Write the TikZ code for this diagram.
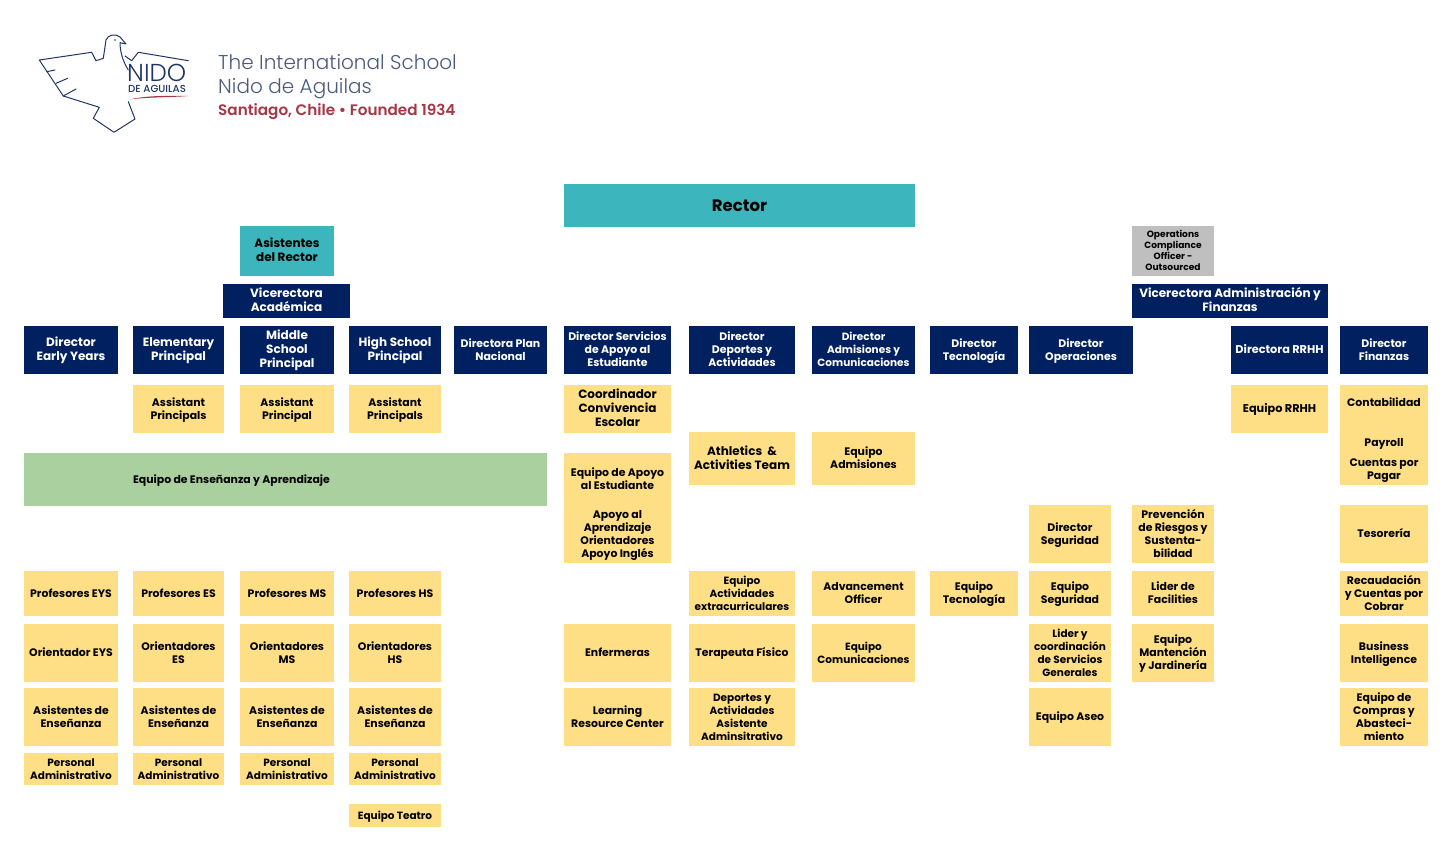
\documentclass[tikz,border=0pt]{standalone}
\usepackage{fontspec}
\setmainfont{Poppins}[UprightFont=*-Bold,BoldFont=*-Bold]
\newfontfamily\logolight{Poppins}[UprightFont=*-Light]
\newfontfamily\logomed{Poppins}[UprightFont=*-Medium]
\newfontfamily\logosemi{Poppins}[UprightFont=*-SemiBold]
\definecolor{navy}{HTML}{002060}
\definecolor{teal}{HTML}{3DB5BC}
\definecolor{ylw}{HTML}{FFDF85}
\definecolor{grn}{HTML}{A9D09E}
\definecolor{gry}{HTML}{BFBFBF}
\definecolor{lgblue}{HTML}{1F3566}
\definecolor{lgtext}{HTML}{4A5A7C}
\definecolor{lgred}{HTML}{A83444}
\tikzset{
 x=1pt,y=-1pt,
 base/.style={inner sep=0pt,outer sep=0pt,align=center,font=\fontsize{10.9}{13}\selectfont},
 nv/.style={base,fill=navy,text=white},
 yl/.style={base,fill=ylw,text=black},
 tl/.style={base,fill=teal,text=black},
 gr/.style={base,fill=gry,text=black,font=\fontsize{9.1}{11}\selectfont},
 big/.style={font=\fontsize{12}{14}\selectfont},
 sm/.style={font=\fontsize{10.5}{13}\selectfont},
 wd/.style={font=\fontsize{11.3}{13}\selectfont},
 gn/.style={base,fill=grn},
 lgline/.style={draw=lgblue,line width=1pt,line join=round,line cap=round},
 lgt/.style={inner sep=0pt,anchor=base west,text=lgtext},
}
\newcommand{\topstrut}{\rule{0pt}{\dimexpr0.7\baselineskip+2pt\relax}}
\newcommand{\bx}[7]{\node[#6,minimum width=#4pt-#2pt,minimum height=#5pt-#3pt] (#1) at ({(#2+#4)/2},{(#3+#5)/2}) {\topstrut #7\strut};}
\begin{document}
\begin{tikzpicture}
\useasboundingbox (0,0) rectangle (1453,848);
% logo
\draw[lgline] (91.7,52.3) -- (39.3,60) -- (63.3,96) -- (99.3,107.3) -- (93.3,118.3) -- (114,132.3) -- (135,119) -- (128.3,101.7);
\draw[lgline] (46.7,71.7) -- (55,70); \draw[lgline] (56,83.3) -- (67.7,78.3); \draw[lgline] (63.3,96) -- (76,89);
\draw[lgline] (91.7,52.3) -- (96,60.7) -- (103.3,58.3) -- (106,40) .. controls (108,35) and (115,33) .. (120,37) -- (126,44) -- (120,42.7) .. controls (120,50) and (122,60) .. (128.3,70);
\draw[lgline] (188.3,60.7) -- (138.3,52.3) -- (131.7,60.7) -- (125,56);
\fill[lgblue] (115,40) circle (0.9);
\fill[lgred] (130,99.3) .. controls (150,95) and (170,96) .. (188.3,96) .. controls (170,97.5) and (150,97) .. (130,99.3) -- cycle;
\node[lgt,text=lgblue,font=\logolight\fontsize{24.5}{25}\selectfont] (lgnido) at (127,81.7) {NIDO};
\node[lgt,text=lgblue,font=\logomed\fontsize{10.2}{10.5}\selectfont] (lgde) at (128,92.6) {DE AGUILAS};
\node[lgt,font=\logolight\fontsize{20}{22}\selectfont] (lg1) at (218,70) {The International School};
\node[lgt,font=\logolight\fontsize{20}{22}\selectfont] (lg2) at (218,94) {Nido de Aguilas};
\node[lgt,text=lgred,font=\logosemi\fontsize{15.2}{17}\selectfont] (lg3) at (218,115.5) {Santiago, Chile • Founded 1934};
% top
\bx{rector}{564}{184}{915}{227}{tl,font=\fontsize{16.5}{18}\selectfont}{\rule{0pt}{16.6pt}Rector}
\bx{asis}{240}{226}{334}{276}{tl,big}{Asistentes\\del Rector}
\bx{vacad}{223}{284}{350}{318}{nv,big}{Vicerectora\\Académica}
\bx{oco}{1132}{226}{1214}{276}{gr}{Operations\\Compliance\\Officer -\\Outsourced}
\bx{vaf}{1132}{284}{1328}{318}{nv,big}{Vicerectora Administración y\\Finanzas}
% directors
\bx{d1}{24}{326}{118}{374}{nv,big}{Director\\Early Years}
\bx{d2}{133}{326}{224}{374}{nv,big}{Elementary\\Principal}
\bx{d3}{240}{326}{334}{374}{nv,big}{Middle\\School\\Principal}
\bx{d4}{349}{326}{441}{374}{nv,big}{High School\\Principal}
\bx{d5}{454}{326}{547}{374}{nv}{Directora Plan\\Nacional}
\bx{d6}{564}{326}{671}{374}{nv}{Director Servicios\\de Apoyo al\\Estudiante}
\bx{d7}{689}{326}{795}{374}{nv}{Director\\Deportes y\\Actividades}
\bx{d8}{812}{326}{915}{374}{nv,sm}{Director\\Admisiones y\\Comunicaciones}
\bx{d9}{930}{326}{1018}{374}{nv}{Director\\Tecnología}
\bx{d10}{1029}{326}{1133}{374}{nv}{Director\\Operaciones}
\bx{d11}{1231}{326}{1328}{374}{nv,wd}{Directora RRHH}
\bx{d12}{1340}{326}{1428}{374}{nv}{Director\\Finanzas}
% row 385
\bx{a2}{133}{385}{224}{433}{yl}{Assistant\\Principals}
\bx{a3}{240}{385}{334}{433}{yl}{Assistant\\Principal}
\bx{a4}{349}{385}{441}{433}{yl}{Assistant\\Principals}
\bx{a6}{564}{385}{671}{433}{yl,big}{Coordinador\\Convivencia\\Escolar}
\bx{a11}{1231}{385}{1328}{433}{yl,wd}{Equipo RRHH}
\bx{a12}{1340}{385}{1428}{485}{yl}{}
\node[base,anchor=center,text=black] (a12t) at (1384,440.5) {\strut Contabilidad\\[27pt]Payroll\\[7pt]Cuentas por\\Pagar\strut};
% green
\bx{green}{24}{453}{547}{506}{gn}{}
\node[base,anchor=west,text=black] (greent) at (133,480.5) {\strut Equipo de Enseñanza y Aprendizaje\strut};
% middle
\bx{e6}{564}{453}{671}{563}{yl}{}
\node[base,text=black] (e6t) at (617.5,514) {\strut Equipo de Apoyo\\al Estudiante\\[16pt]Apoyo al\\Aprendizaje\\Orientadores\\Apoyo Inglés\strut};
\bx{e7}{689}{432}{795}{485}{yl,big}{Athletics\ \ \&\\Activities Team}
\bx{e8}{812}{432}{915}{485}{yl}{Equipo\\Admisiones}
\bx{s10}{1029}{505}{1111}{563}{yl}{Director\\Seguridad}
\bx{s11}{1132}{505}{1214}{563}{yl}{Prevención\\de Riesgos y\\Sustenta-\\bilidad}
\bx{s12}{1340}{505}{1428}{563}{yl}{Tesorería}
% row 571
\bx{r1}{24}{571}{118}{616}{yl}{Profesores EYS}
\bx{r2}{133}{571}{224}{616}{yl}{Profesores ES}
\bx{r3}{240}{571}{334}{616}{yl}{Profesores MS}
\bx{r4}{349}{571}{441}{616}{yl}{Profesores HS}
\bx{r7}{689}{571}{795}{616}{yl,sm}{Equipo\\Actividades\\extracurriculares}
\bx{r8}{812}{571}{915}{616}{yl}{Advancement\\Officer}
\bx{r9}{930}{571}{1018}{616}{yl}{Equipo\\Tecnología}
\bx{r10}{1029}{571}{1111}{616}{yl}{Equipo\\Seguridad}
\bx{r11}{1132}{571}{1214}{616}{yl}{Lider de\\Facilities}
\bx{r12}{1340}{571}{1428}{616}{yl}{Recaudación\\y Cuentas por\\Cobrar}
% row 624
\bx{o1}{24}{624}{118}{682}{yl}{Orientador EYS}
\bx{o2}{133}{624}{224}{682}{yl}{Orientadores\\ES}
\bx{o3}{240}{624}{334}{682}{yl}{Orientadores\\MS}
\bx{o4}{349}{624}{441}{682}{yl}{Orientadores\\HS}
\bx{o6}{564}{624}{671}{682}{yl}{Enfermeras}
\bx{o7}{689}{624}{795}{682}{yl}{Terapeuta Físico}
\bx{o8}{812}{624}{915}{682}{yl,sm}{Equipo\\Comunicaciones}
\bx{o10}{1029}{624}{1111}{682}{yl,sm}{Lider y\\coordinación\\de Servicios\\Generales}
\bx{o11}{1132}{624}{1214}{682}{yl}{Equipo\\Mantención\\y Jardinería}
\bx{o12}{1340}{624}{1428}{682}{yl}{Business\\Intelligence}
% row 688
\bx{t1}{24}{688}{118}{746}{yl}{Asistentes de\\Enseñanza}
\bx{t2}{133}{688}{224}{746}{yl}{Asistentes de\\Enseñanza}
\bx{t3}{240}{688}{334}{746}{yl}{Asistentes de\\Enseñanza}
\bx{t4}{349}{688}{441}{746}{yl}{Asistentes de\\Enseñanza}
\bx{t6}{564}{688}{671}{746}{yl}{Learning\\Resource Center}
\bx{t7}{689}{688}{795}{746}{yl,sm}{Deportes y\\Actividades\\Asistente\\Adminsitrativo}
\bx{t10}{1029}{688}{1111}{746}{yl}{Equipo Aseo}
\bx{t12}{1340}{688}{1428}{746}{yl}{Equipo de\\Compras y\\Abasteci-\\miento}
% row 753
\bx{p1}{24}{753}{118}{785}{yl,sm}{Personal\\Administrativo}
\bx{p2}{133}{753}{224}{785}{yl,sm}{Personal\\Administrativo}
\bx{p3}{240}{753}{334}{785}{yl,sm}{Personal\\Administrativo}
\bx{p4}{349}{753}{441}{785}{yl,sm}{Personal\\Administrativo}
\bx{teatro}{349}{804}{441}{827}{yl,sm}{Equipo Teatro}
\end{tikzpicture}
\end{document}
